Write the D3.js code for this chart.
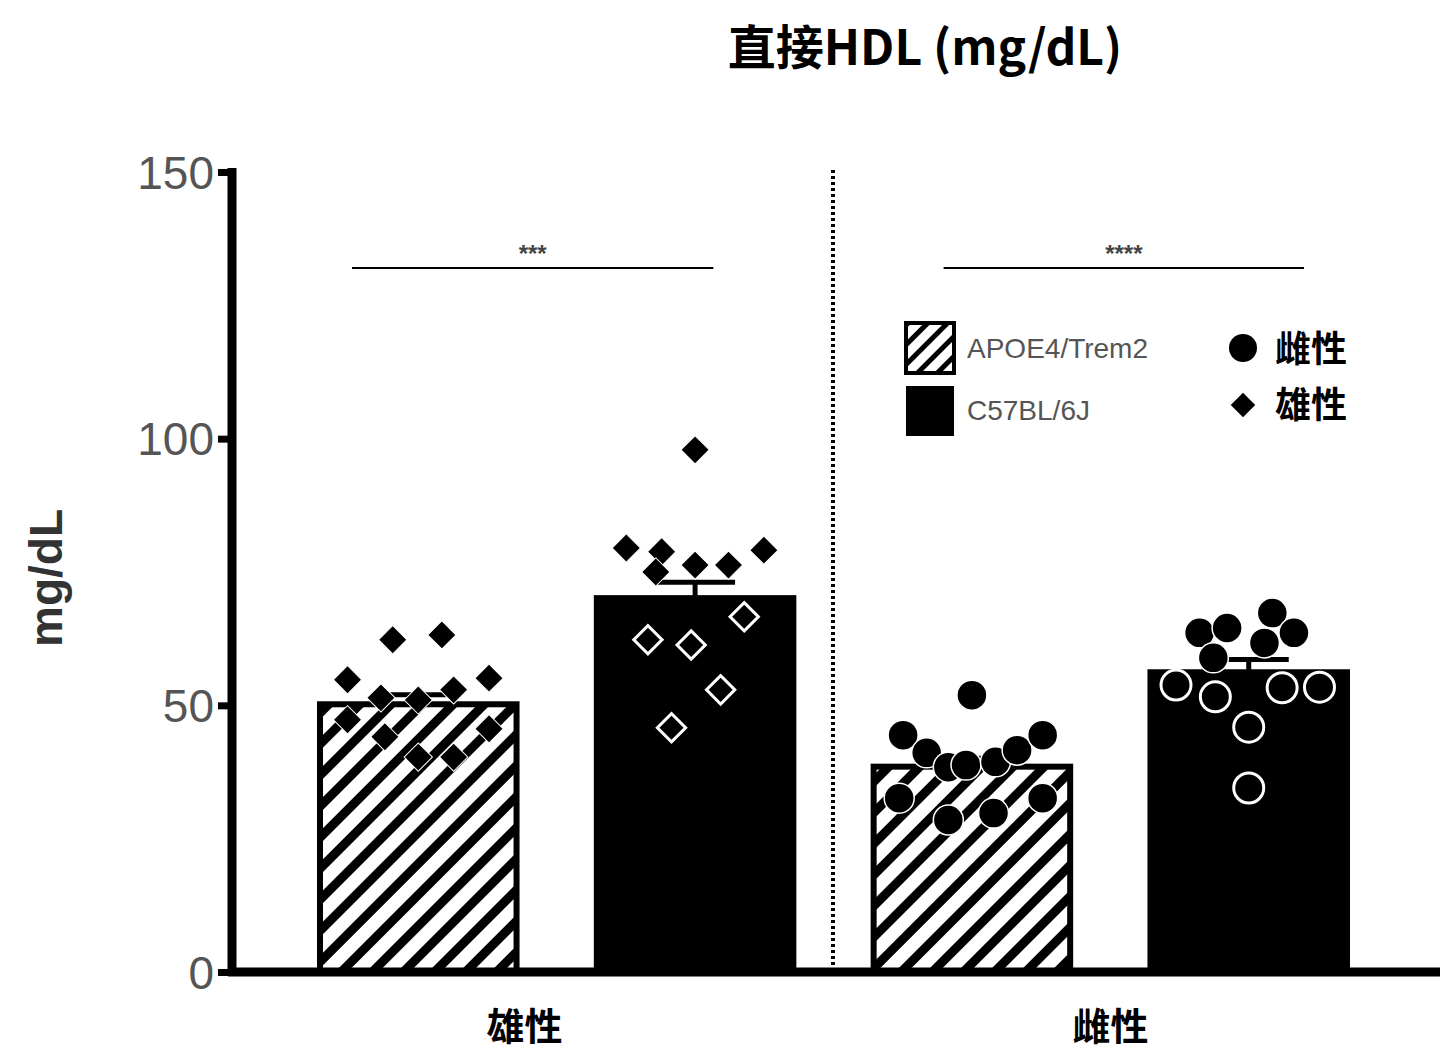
<!DOCTYPE html>
<html><head><meta charset="utf-8">
<script src="https://cdn.jsdelivr.net/npm/d3@7"></script>
<style>body{margin:0;background:#fff}</style></head>
<body><svg id="c" width="1451" height="1055"></svg>
<script>
const groups = ["M_APOE","M_C57","F_APOE","F_C57"];
const strains = ["APOE4/Trem2","C57BL/6J","APOE4/Trem2","C57BL/6J"];
const barMeans = [50.2, 70.1, 38.5, 56.2];
const barSem = [1.8, 3.0, 1.6, 2.4];
const yTicks = [0, 50, 100, 150];
const sexLabels = ["雄性","雌性"];
const M_APOE_vals = [54.8,62.3,63.2,55.1,51.4,51.0,52.9,47.3,44.1,40.3,40.3,45.6];
const M_APOE_jit  = [-0.36,-0.13,0.12,0.36,-0.19,0,0.18,-0.36,-0.17,0,0.18,0.36];
const M_C57_vals = [79.5,78.8,76.3,76.3,79.1,97.9,75.0,62.3,61.3,66.6,52.9,45.8];
const M_C57_jit  = [-0.35,-0.17,0,0.17,0.35,0.0,-0.2,-0.24,-0.02,0.25,0.13,-0.12];
const M_C57_open = [false,false,false,false,false,false,false,true,true,true,true,true];
const F_APOE_vals = [44.4,41.1,38.4,38.8,39.4,41.6,44.4,32.6,28.5,29.8,32.6,51.9];
const F_APOE_jit  = [-0.35,-0.23,-0.12,-0.03,0.12,0.23,0.36,-0.37,-0.12,0.11,0.36,0.0];
const F_C57_vals = [63.6,64.5,67.3,61.7,63.6,58.9,53.8,51.6,53.3,53.4,45.9,34.5];
const F_C57_jit  = [-0.25,-0.11,0.12,0.08,0.23,-0.18,-0.37,-0.17,0.17,0.36,0,0];
const F_C57_open = [false,false,false,false,false,false,true,true,true,true,true,true];
const sigLabels = ["***","****"];

const svg = d3.select("#c");
const y = d3.scaleLinear().domain([0,150]).range([972,172]);
const x = d3.scaleBand().domain(groups).range([320,1347]).paddingInner(0.29).paddingOuter(0);
const bw = x.bandwidth();

const defs = svg.append("defs");
const pat = defs.append("pattern").attr("id","hatch").attr("patternUnits","userSpaceOnUse")
  .attr("width",22).attr("height",22).attr("patternTransform","rotate(45)");
pat.append("rect").attr("width",22).attr("height",22).attr("fill","#fff");
pat.append("rect").attr("width",9).attr("height",22).attr("fill","#000");
const pat2 = defs.append("pattern").attr("id","hatch2").attr("patternUnits","userSpaceOnUse")
  .attr("width",14).attr("height",14).attr("patternTransform","rotate(45)");
pat2.append("rect").attr("width",14).attr("height",14).attr("fill","#fff");
pat2.append("rect").attr("width",5).attr("height",14).attr("fill","#000");

svg.append("text").attr("x",925).attr("y",65).attr("text-anchor","middle")
  .attr("font-family","Noto Sans CJK SC").attr("font-weight","bold").attr("font-size",48).text("直接HDL (mg/dL)");

groups.forEach((g,i)=>{
  svg.append("rect").attr("x",x(g)).attr("y",y(barMeans[i])).attr("width",bw)
    .attr("height",y(0)-y(barMeans[i])).attr("fill",strains[i]==="C57BL/6J"?"#000":"url(#hatch)")
    .attr("stroke","#000").attr("stroke-width",6);
  const cx = x(g)+bw/2;
  svg.append("line").attr("x1",cx).attr("x2",cx).attr("y1",y(barMeans[i])).attr("y2",y(barMeans[i]+barSem[i])).attr("stroke","#000").attr("stroke-width",5);
  svg.append("line").attr("x1",cx-40).attr("x2",cx+40).attr("y1",y(barMeans[i]+barSem[i])).attr("y2",y(barMeans[i]+barSem[i])).attr("stroke","#000").attr("stroke-width",5);
});

function diamonds(g, vals, jit, open){
  const cx = x(g)+bw/2;
  vals.forEach((v,i)=>{
    const o = open && open[i];
    svg.append("path").attr("d",d3.symbol(d3.symbolSquare,400)())
      .attr("transform",`translate(${cx+jit[i]*bw},${y(v)}) rotate(45)`)
      .attr("fill","#000").attr("stroke",o?"#fff":"#fff").attr("stroke-width",o?3:1);
  });
}
function circles(g, vals, jit, open){
  const cx = x(g)+bw/2;
  vals.forEach((v,i)=>{
    const o = open && open[i];
    svg.append("circle").attr("cx",cx+jit[i]*bw).attr("cy",y(v)).attr("r",15)
      .attr("fill","#000").attr("stroke","#fff").attr("stroke-width",o?3:1.5);
  });
}
diamonds("M_APOE",M_APOE_vals,M_APOE_jit,null);
diamonds("M_C57",M_C57_vals,M_C57_jit,M_C57_open);
circles("F_APOE",F_APOE_vals,F_APOE_jit,null);
circles("F_C57",F_C57_vals,F_C57_jit,F_C57_open);

const ya = svg.append("g").attr("transform","translate(232,0)")
  .call(d3.axisLeft(y).tickValues(yTicks).tickSize(14).tickPadding(4));
ya.select(".domain").attr("stroke-width",9).attr("d","M0,972V168");
ya.selectAll(".tick line").attr("stroke-width",7);
ya.selectAll("text").attr("font-family","Liberation Sans").attr("font-size",46).attr("fill","#555").attr("dy","0.35em");
svg.append("line").attr("x1",228).attr("x2",1440).attr("y1",972).attr("y2",972).attr("stroke","#000").attr("stroke-width",9);

svg.append("text").attr("transform","translate(62,578) rotate(-90)").attr("text-anchor","middle")
  .attr("font-family","Liberation Sans").attr("font-weight","bold").attr("font-size",46).attr("fill","#333").text("mg/dL");

svg.append("line").attr("x1",833).attr("x2",833).attr("y1",170).attr("y2",965)
  .attr("stroke","#000").attr("stroke-width",4).attr("stroke-dasharray","3,3");

const labelX = [x("M_APOE")+bw+8, x("F_C57")-40];
const sigX = [[x("M_APOE")+32, x("M_C57")+bw-80],[x("F_APOE")+70, x("F_C57")+bw-43]];
[0,1].forEach(i=>{
  svg.append("text").attr("x",labelX[i]).attr("y",1040).attr("text-anchor","middle")
    .attr("font-family","Noto Sans CJK SC").attr("font-weight","bold").attr("font-size",38).text(sexLabels[i]);
  svg.append("line").attr("x1",sigX[i][0]).attr("x2",sigX[i][1]).attr("y1",268).attr("y2",268)
    .attr("stroke","#000").attr("stroke-width",2);
  svg.append("text").attr("x",(sigX[i][0]+sigX[i][1])/2).attr("y",262).attr("text-anchor","middle")
    .attr("font-family","Liberation Sans").attr("font-weight","bold").attr("font-size",24).attr("fill","#444").text(sigLabels[i]);
});

svg.append("rect").attr("x",906).attr("y",323).attr("width",48).attr("height",50).attr("fill","url(#hatch2)").attr("stroke","#000").attr("stroke-width",4);
svg.append("rect").attr("x",906).attr("y",386).attr("width",48).attr("height",50).attr("fill","#000");
svg.append("text").attr("x",967).attr("y",358).attr("font-family","Liberation Sans").attr("font-size",28).attr("fill","#555").text(strains[0]);
svg.append("text").attr("x",967).attr("y",420).attr("font-family","Liberation Sans").attr("font-size",28).attr("fill","#555").text(strains[1]);
svg.append("circle").attr("cx",1243).attr("cy",348).attr("r",14).attr("fill","#000");
svg.append("path").attr("d",d3.symbol(d3.symbolSquare,300)()).attr("transform","translate(1243,405) rotate(45)").attr("fill","#000");
svg.append("text").attr("x",1275).attr("y",362).attr("font-family","Noto Sans CJK SC").attr("font-weight","bold").attr("font-size",36).text(sexLabels[1]);
svg.append("text").attr("x",1275).attr("y",418).attr("font-family","Noto Sans CJK SC").attr("font-weight","bold").attr("font-size",36).text(sexLabels[0]);
</script></body></html>
